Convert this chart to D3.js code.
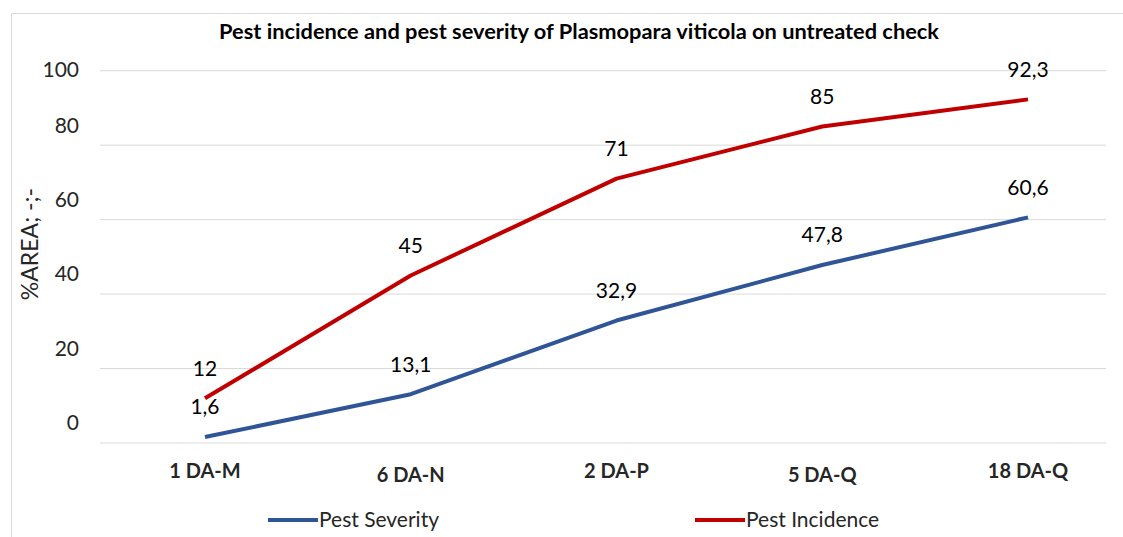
<!DOCTYPE html>
<html><head><meta charset="utf-8">
<script src="https://cdn.jsdelivr.net/npm/d3@7"></script>
<style>body{margin:0;background:#fff}svg{display:block}text{font-family:Lato,"Open Sans",sans-serif}</style>
</head><body>
<svg id="c" width="1123" height="537"></svg>
<script>
const categories = ["1 DA-M","6 DA-N","2 DA-P","5 DA-Q","18 DA-Q"];
const severity = [1.6, 13.1, 32.9, 47.8, 60.6];
const incidence = [12, 45, 71, 85, 92.3];
const yTicks = [0, 20, 40, 60, 80, 100];
const seriesNames = ["Pest Severity", "Pest Incidence"];
const colors = ["#2F5597", "#C00000"];

const svg = d3.select("#c");
svg.append("rect").attr("x",11.5).attr("y",13.5).attr("width",1130).attr("height",540)
  .attr("fill","#fff").attr("stroke","#d9d9d9");

const y = d3.scaleLinear().domain([0,100]).range([443,70.7]);
const x = d3.scalePoint().domain(categories).range([205,1028]);

// gridlines
svg.append("g").selectAll("line").data(yTicks).join("line")
  .attr("x1",100).attr("x2",1106).attr("y1",d=>y(d)).attr("y2",d=>y(d))
  .attr("stroke","#d9d9d9").attr("stroke-width",1);

// y tick labels
svg.append("g").selectAll("text").data(yTicks).join("text")
  .attr("x",79).attr("y",d=>Math.max(y(d)-20,70)).attr("dy","0.35em")
  .attr("text-anchor","end").attr("font-size",21).attr("fill","#262626").text(d=>d);

svg.append("text").attr("transform","translate(30,244) rotate(-90)")
  .attr("text-anchor","middle").attr("dy","0.35em").attr("font-size",23).attr("fill","#262626")
  .text("%AREA; -;-");

// x labels
svg.append("g").selectAll("text").data(categories).join("text")
  .attr("x",d=>x(d)).attr("y",(d,i)=>i%2?475:471).attr("dy","0.35em")
  .attr("text-anchor","middle").attr("font-size",20).attr("font-weight","bold").attr("fill","#262626")
  .text(d=>d);

svg.append("text").attr("x",579).attr("y",31).attr("dy","0.35em").attr("text-anchor","middle")
  .attr("font-size",21.8).attr("font-weight","bold").attr("fill","#000")
  .text("Pest incidence and pest severity of Plasmopara viticola on untreated check");

const line = d3.line().x((d,i)=>x(categories[i])).y(d=>y(d));
[severity, incidence].forEach((s,k)=>{
  svg.append("path").datum(s).attr("d",line).attr("fill","none")
    .attr("stroke",colors[k]).attr("stroke-width",4).attr("stroke-linejoin","round");
});
const fmt = v => String(v).replace(".", ",");
[severity, incidence].forEach((s,k)=>{
  svg.append("g").selectAll("text").data(s).join("text")
    .attr("x",(d,i)=>x(categories[i])).attr("y",d=>y(d)-30).attr("dy","0.35em")
    .attr("text-anchor","middle").attr("font-size",21).attr("fill","#000").text(fmt);
});

// legend
const legX = [268, 695];
seriesNames.forEach((n,k)=>{
  svg.append("line").attr("x1",legX[k]).attr("x2",legX[k]+50).attr("y1",520).attr("y2",520)
    .attr("stroke",colors[k]).attr("stroke-width",4);
  svg.append("text").attr("x",legX[k]+51).attr("y",520).attr("dy","0.35em")
    .attr("font-size",21).attr("fill","#262626").text(n);
});
</script>
</body></html>
